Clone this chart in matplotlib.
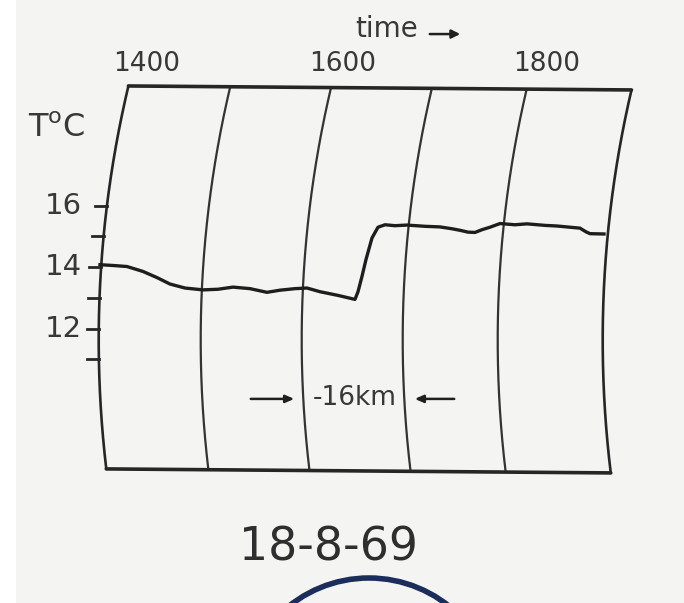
import numpy as np
import matplotlib
matplotlib.use("Agg")
import matplotlib.pyplot as plt
from matplotlib.patches import Ellipse, Rectangle

# ---------------- data ----------------
# chart-paper hour lines (leftmost position of each curved line, hours)
grid_hours = [13.517, 14.537, 15.547, 16.557, 17.507, 18.557]
# time labels on top
time_labels = ["1400", "1600", "1800"]
time_label_hours = [14.0, 15.96, 18.0]
# temperature ticks
temp_ticks = [16, 15, 14, 13, 12, 11]
temp_labels = {16: "16", 14: "14", 12: "12"}
# recorded temperature trace
trace_hours = [13.53, 13.68, 13.80, 13.96, 14.10, 14.23, 14.38, 14.56, 14.71, 14.86,
               15.03, 15.20, 15.33, 15.48, 15.60, 15.73, 15.91, 16.08, 16.11, 16.15,
               16.19, 16.25, 16.31, 16.38, 16.48, 16.60, 16.78, 16.93, 17.05, 17.13,
               17.21, 17.28, 17.35, 17.43, 17.53, 17.68, 17.80, 17.98, 18.10, 18.23,
               18.33, 18.39, 18.43, 18.57]
trace_temp = [14.08, 14.05, 14.02, 13.86, 13.66, 13.45, 13.32, 13.26, 13.28, 13.35,
              13.30, 13.18, 13.25, 13.30, 13.32, 13.20, 13.08, 12.95, 13.20, 13.70,
              14.25, 14.95, 15.30, 15.38, 15.35, 15.37, 15.33, 15.31, 15.25, 15.20,
              15.14, 15.13, 15.22, 15.30, 15.42, 15.38, 15.41, 15.36, 15.34, 15.30,
              15.27, 15.15, 15.09, 15.08]
# frame top / bottom temperature at left and right
frame_top = (19.90, 19.77)
frame_bottom = (7.43, 7.30)
date_text = "18-8-69"
distance_text = "-16km"

# ---------------- figure ----------------
W, H = 684, 603
fig = plt.figure(figsize=(W / 100, H / 100), dpi=100)
fig.patch.set_facecolor("#f4f4f2")
fig.patches.append(Rectangle((0, 0), 16 / W, 1, transform=fig.transFigure,
                             facecolor="white", edgecolor="none", zorder=0))
ax = fig.add_axes([0, 0, 1, 1])
ax.set_facecolor("none")
XL = (12.53, 19.37)
YL = (3.064, 22.699)
ax.set_xlim(*XL)
ax.set_ylim(*YL)
ax.axis("off")

px_per_h = W / (XL[1] - XL[0])
px_per_T = H / (YL[1] - YL[0])
R_px = 1100.0
Tc = 11.63


def arc_offset(T):
    dy = (np.asarray(T) - Tc) * px_per_T
    return (R_px - np.sqrt(R_px ** 2 - dy ** 2)) / px_per_h


ink = "#262626"
txt = "#383838"
n = len(grid_hours)
tops, bottoms = [], []
for i, h0 in enumerate(grid_hours):
    f = i / (n - 1)
    t_top = frame_top[0] + (frame_top[1] - frame_top[0]) * f
    t_bot = frame_bottom[0] + (frame_bottom[1] - frame_bottom[0]) * f
    Ts = np.linspace(t_bot, t_top, 200)
    xs = h0 + arc_offset(Ts)
    edge = i in (0, n - 1)
    ax.plot(xs, Ts, color=ink if edge else "#333333",
            lw=1.9 if edge else 1.6, solid_capstyle="round")
    tops.append((xs[-1], t_top))
    bottoms.append((xs[0], t_bot))

ax.plot([tops[0][0], tops[-1][0]], [tops[0][1], tops[-1][1]], color=ink, lw=2.6,
        solid_capstyle="round")
ax.plot([bottoms[0][0], bottoms[-1][0]], [bottoms[0][1], bottoms[-1][1]], color=ink,
        lw=2.6, solid_capstyle="round")

# temperature ticks on left edge
for T in temp_ticks:
    xe = grid_hours[0] + arc_offset(T)
    ax.plot([xe - 0.12, xe], [T, T], color=ink, lw=2.0)
    if T in temp_labels:
        ax.text(13.35, T, temp_labels[T], ha="right", va="center",
                fontsize=21, color=txt)

# trace
ax.plot(trace_hours, trace_temp, color="#1e1e1e", lw=2.4, solid_joinstyle="round")

# time labels
for lab, h in zip(time_labels, time_label_hours):
    ax.text(h, 20.6, lab, ha="center", va="center", fontsize=19, color=txt)

ax.text(16.40, 21.75, "time", ha="center", va="center", fontsize=20, color=txt)
ax.annotate("", xy=(17.16, 21.59), xytext=(16.80, 21.59),
            arrowprops=dict(arrowstyle="-|>,head_length=0.5,head_width=0.25",
                            color="#202020", lw=1.8))

ax.text(13.10, 18.50, r"T$^{\rm o}$C", ha="center", va="center", fontsize=23,
        color=txt)

# distance annotation
ax.annotate("", xy=(15.50, 9.71), xytext=(15.01, 9.71),
            arrowprops=dict(arrowstyle="-|>,head_length=0.5,head_width=0.22",
                            color="#202020", lw=1.8))
ax.annotate("", xy=(16.65, 9.71), xytext=(17.10, 9.71),
            arrowprops=dict(arrowstyle="-|>,head_length=0.5,head_width=0.22",
                            color="#202020", lw=1.8))
ax.text(16.08, 9.75, distance_text, ha="center", va="center", fontsize=19,
        color=txt)

ax.text(15.81, 4.86, date_text, ha="center", va="center", fontsize=33,
        color="#2e2e2e")

ax.add_patch(Ellipse((16.22, -0.29), 2 * 128 / px_per_h, 2 * 128 / px_per_T,
                     facecolor="none", edgecolor="#1b2d5a", lw=4.0, clip_on=False))

fig.savefig("out.png", dpi=100, facecolor=fig.get_facecolor())
